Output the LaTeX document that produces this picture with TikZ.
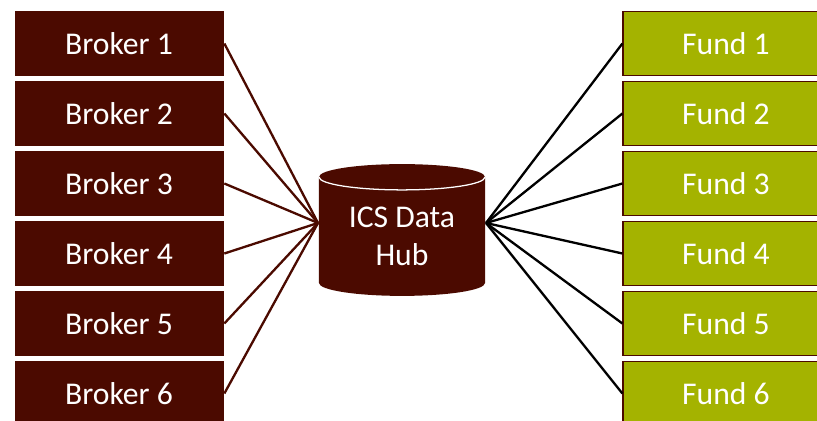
\documentclass[tikz,border=0pt]{standalone}
\usepackage{fontspec}
\setmainfont{Carlito}
\usepackage{tikz}

\definecolor{brokerred}{RGB}{75,10,0}
\definecolor{fundgreen}{RGB}{164,179,0}

\begin{document}
\begin{tikzpicture}[line width=2.2pt,
    broker/.style={draw=white, line width=0.6pt, rectangle, fill=brokerred, minimum width=7cm, minimum height=2.2cm, text=white, font=\fontsize{30}{36}\selectfont},
    fund/.style={draw=brokerred, line width=1.6pt, rectangle, fill=fundgreen, minimum width=6.85cm, minimum height=2.13cm, text=white, font=\fontsize{30}{36}\selectfont}]

    \useasboundingbox (0,0) rectangle (27.233,14);

    \node[broker] (b1) at (3.967,12.55) {Broker 1};
    \node[broker] (b2) at (3.967,10.217) {Broker 2};
    \node[broker] (b3) at (3.967,7.883) {Broker 3};
    \node[broker] (b4) at (3.967,5.55) {Broker 4};
    \node[broker] (b5) at (3.967,3.217) {Broker 5};
    \node[broker] (b6) at (3.967,0.883) {Broker 6};

    \node[fund] (f1) at (24.2,12.55) {Fund 1};
    \node[fund] (f2) at (24.2,10.217) {Fund 2};
    \node[fund] (f3) at (24.2,7.883) {Fund 3};
    \node[fund] (f4) at (24.2,5.55) {Fund 4};
    \node[fund] (f5) at (24.2,3.217) {Fund 5};
    \node[fund] (f6) at (24.2,0.883) {Fund 6};

    % data hub drum
    \fill[brokerred] (10.633,8.1) -- (10.633,4.567)
        arc[start angle=180, end angle=360, x radius=2.767cm, y radius=0.43cm]
        -- (16.167,8.1)
        arc[start angle=0, end angle=180, x radius=2.767cm, y radius=0.43cm] -- cycle;
    \draw[white, line width=1.2pt] (10.633,8.1)
        arc[start angle=180, end angle=360, x radius=2.767cm, y radius=0.43cm];
    \node[text=white, align=center, font=\fontsize{30}{36}\selectfont] (hub) at (13.4,6.13) {ICS Data\\Hub};
    \coordinate (hubL) at (10.6,6.567);
    \coordinate (hubR) at (16.2,6.567);

    \draw[brokerred] (b1.east) -- (hubL);
    \draw[brokerred] (b2.east) -- (hubL);
    \draw[brokerred] (b3.east) -- (hubL);
    \draw[brokerred] (b4.east) -- (hubL);
    \draw[brokerred] (b5.east) -- (hubL);
    \draw[brokerred] (b6.east) -- (hubL);

    \draw (hubR) -- (f1.west);
    \draw (hubR) -- (f2.west);
    \draw (hubR) -- (f3.west);
    \draw (hubR) -- (f4.west);
    \draw (hubR) -- (f5.west);
    \draw (hubR) -- (f6.west);
\end{tikzpicture}
\end{document}
